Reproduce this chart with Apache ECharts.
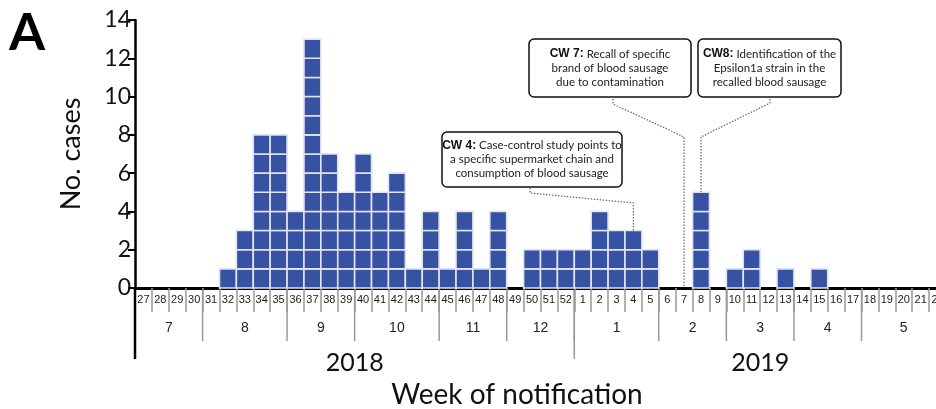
<!DOCTYPE html>
<html>
<head>
<meta charset="utf-8">
<script src="https://cdn.jsdelivr.net/npm/echarts@6/dist/echarts.min.js"></script>
<style>
html,body{margin:0;padding:0;background:#fff;}
#chart{width:936px;height:409px;}
</style>
</head>
<body>
<div id="chart"></div>
<script>
// ---- data ----
const weeks = ['27','28','29','30','31','32','33','34','35','36','37','38','39','40','41','42','43','44','45','46','47','48','49','50','51','52',
               '1','2','3','4','5','6','7','8','9','10','11','12','13','14','15','16','17','18','19','20','21','22'];
const cases = [0,0,0,0,0,1,3,8,8,4,13,7,5,7,5,6,1,4,1,4,1,4,0,2,2,2,
               2,4,3,3,2,0,0,5,0,1,2,0,1,0,1,0,0,0,0,0,0,0];
const yTicks = [0,2,4,6,8,10,12,14];
const monthLabels = ['7','8','9','10','11','12','1','2','3','4','5'];
const monthWeekCounts = [4,5,4,5,4,4,5,4,4,4,5];
const yearLabels = ['2018','2019'];
const yearWeekCounts = [26,22];
const annoWeeks = ['4','7','8'];
const annoBold = ['CW 4:','CW 7:','CW8:'];
const annoText = [
  ' Case-control study points to\na specific supermarket chain and\nconsumption of blood sausage',
  ' Recall of specific\nbrand of blood sausage\ndue to contamination',
  ' Identification of the\nEpsilon1a strain in the\nrecalled blood sausage'
];

const BLUE = '#3852a3';
const chart = echarts.init(document.getElementById('chart'), null, {renderer:'canvas'});

const option = {
  animation: false,
  backgroundColor: '#fff',
  grid: {left: 135, top: 20, right: -10, bottom: 121, containLabel: false, outerBoundsMode: 'none'},
  xAxis: {
    type: 'category',
    data: weeks,
    boundaryGap: true,
    axisLine: {show: true, lineStyle: {color: '#000', width: 3}},
    axisTick: {show: true, length: 24, interval: 0, lineStyle: {color: '#999', width: 1.5}},
    axisLabel: {interval: 0, margin: 6, fontSize: 11, color: '#222', fontFamily: 'Liberation Sans', hideOverlap: false},
    splitLine: {show: false}
  },
  yAxis: {
    type: 'value',
    min: yTicks[0], max: yTicks[yTicks.length-1], interval: 2,
    name: 'No. cases', nameLocation: 'middle', nameGap: 50, nameRotate: 90,
    nameTextStyle: {fontSize: 27, fontFamily: 'Lato', color: '#111'},
    axisLine: {show: true, lineStyle: {color: '#000', width: 2.5}},
    axisTick: {show: true, length: 7, lineStyle: {color: '#000', width: 2}},
    axisLabel: {fontSize: 23, fontFamily: 'Lato', color: '#111', margin: 4},
    splitLine: {show: false}
  },
  series: [{
    type: 'custom',
    data: cases.map((c, i) => [i, c]),
    renderItem: function (params, api) {
      const i = api.value(0), n = api.value(1);
      const bw = api.size([1, 0])[0];
      const children = [];
      for (let j = 0; j < n; j++) {
        const p0 = api.coord([i, j]);
        const p1 = api.coord([i, j + 1]);
        children.push({
          type: 'rect',
          shape: {x: p0[0] - bw / 2, y: p1[1], width: bw, height: p0[1] - p1[1]},
          style: {fill: BLUE, stroke: '#dfe4f1', lineWidth: 1.6}
        });
      }
      return {type: 'group', children: children};
    },
    z: 1
  }]
};
chart.setOption(option);

// ---- derived graphics (positions from the axes) ----
const px = (i, v) => chart.convertToPixel({xAxisIndex: 0, yAxisIndex: 0}, [i, v]);
const band = px(1, 0)[0] - px(0, 0)[0];
const bound = i => px(i, 0)[0] - band / 2;
const y0 = px(0, 0)[1];
const g = [];
const line = (x1, y1, x2, y2, color, w, dash) => ({
  type: 'line', silent: true, z: 5,
  shape: {x1, y1, x2, y2},
  style: {stroke: color, lineWidth: w, lineDash: dash || null}
});
const poly = (pts) => ({
  type: 'polyline', silent: true, z: 5,
  shape: {points: pts},
  style: {stroke: '#666', lineWidth: 1.2, lineDash: [1.5, 1.5], fill: null}
});

// y-axis extension below
g.push(line(bound(0), y0, bound(0), y0 + 71, '#000', 2.5));

// month separators and labels
let acc = 0;
monthLabels.forEach((m, k) => {
  const s = acc, e = acc + monthWeekCounts[k];
  if (s > 0) g.push(line(bound(s), y0 + 2, bound(s), y0 + 53, '#999', 1.5));
  g.push({type: 'text', silent: true, z: 5,
    style: {text: m, x: (bound(s) + bound(e)) / 2, y: y0 + 40, textAlign: 'center', textVerticalAlign: 'middle',
      font: '14px "Liberation Sans"', fill: '#222'}});
  acc = e;
});
// year separators and labels
acc = 0;
yearLabels.forEach((yl, k) => {
  const s = acc, e = acc + yearWeekCounts[k];
  if (s > 0) g.push(line(bound(s), y0 + 2, bound(s), y0 + 71, '#999', 1.5));
  g.push({type: 'text', silent: true, z: 5,
    style: {text: yl, x: (bound(s) + bound(e)) / 2, y: y0 + 75, textAlign: 'center', textVerticalAlign: 'middle',
      font: '25px Lato', fill: '#111'}});
  acc = e;
});
// x axis title
g.push({type: 'text', silent: true, z: 5,
  style: {text: 'Week of notification', x: 517, y: 395, textAlign: 'center', textVerticalAlign: 'middle',
    font: '28px Lato', fill: '#111'}});
// panel letter
g.push({type: 'text', silent: true, z: 5,
  style: {text: 'A', x: 27, y: 33, textAlign: 'center', textVerticalAlign: 'middle',
    font: 'bold 52px Lato', fill: '#000'}});

// annotations
const boxes = [
  {x: 442, y: 132, w: 180, h: 55},
  {x: 529, y: 39, w: 162, h: 58},
  {x: 698, y: 39, w: 143, h: 58}
];
annoWeeks.forEach((wk, k) => {
  const b = boxes[k];
  g.push({type: 'rect', silent: true, z: 6,
    shape: {x: b.x, y: b.y, width: b.w, height: b.h, r: 5},
    style: {fill: '#fff', stroke: '#111', lineWidth: 1.5}});
  g.push({type: 'text', silent: true, z: 7,
    style: {
      text: '{b|' + annoBold[k] + '}' + annoText[k],
      x: b.x + b.w / 2, y: b.y + b.h / 2, textAlign: 'center', textVerticalAlign: 'middle',
      font: '11.5px Lato', fill: '#222', lineHeight: 14,
      rich: {b: {fontWeight: 'bold', font: 'bold 11.5px Lato', fill: '#111', lineHeight: 14}}
    }});
});
// connectors
const i4 = weeks.indexOf(annoWeeks[0]), i7 = weeks.indexOf(annoWeeks[1]), i8 = weeks.indexOf(annoWeeks[2]);
const x4 = px(i4, 0)[0], top4 = px(i4, cases[i4])[1];
g.push(poly([[530, 188], [530, 193], [x4, 203], [x4, top4]]));
const x7 = px(i7, 0)[0];
g.push(poly([[613, 99], [613, 104], [x7, 137], [x7, y0 - 2]]));
const x8 = px(i8, 0)[0], top8 = px(i8, cases[i8])[1];
g.push(poly([[770, 99], [770, 103], [x8, 137], [x8, top8]]));

chart.setOption({graphic: {elements: g}});
</script>
</body>
</html>
